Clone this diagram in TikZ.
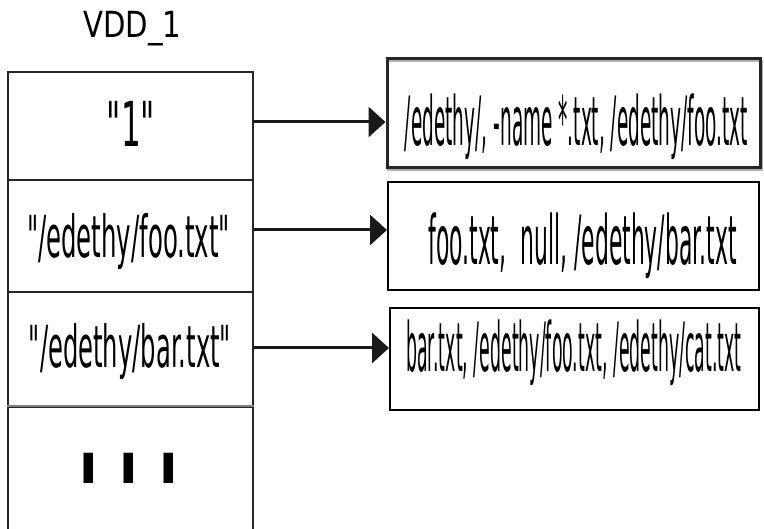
\documentclass[tikz,border=0pt]{standalone}
\usepackage{fontspec}
\usepackage{graphicx}
\setmainfont{DejaVu Sans}[Ligatures=TeXOff]
\usetikzlibrary{arrows.meta}
\newcommand\sq[2]{\scalebox{#1}[1]{#2}}
\newcommand\fs[1]{\fontsize{#1}{#1}\selectfont}
\newcommand\dq{\char34 }
\begin{document}
\begin{tikzpicture}[x=1pt,y=-1pt,
  cell/.style={draw=black!85,line width=1.5pt,minimum width=245pt,inner sep=0pt},
  tbox/.style={draw=black,line width=2pt,inner sep=0pt},
  lbl/.style={inner sep=0pt,anchor=base},
  arr/.style={line width=3pt,black!90,-{Triangle[length=17pt,width=30pt]}}]
\useasboundingbox (0,0) rectangle (764,529);
% left column
\node[cell,minimum height=108pt] (r1) at (130.5,126) {};
\node[cell,minimum height=112pt] (r2) at (130.5,236) {};
\node[cell,minimum height=115pt] (r3) at (130.5,349.5) {};
\node[cell,minimum height=138pt] (r4) at (130.5,476) {};
\draw[gray,line width=1.5pt] (r4.north west) -- (r4.north east);
% labels
\node[lbl] (vdd) at (132.5,38) {\fs{36pt}\sq{0.81}{VDD\_1}};
\node[lbl] (t1) at (131,147) {\fs{62pt}\sq{0.5}{\dq 1\dq}};
\node[lbl] (t2) at (128.5,258) {\fs{58pt}\sq{0.42}{\dq/edethy/foo.txt\dq}};
\node[lbl] (t3) at (130,368) {\fs{58pt}\sq{0.418}{\dq/edethy/bar.txt\dq}};
\node[lbl,text height=32pt,text depth=0pt] (t4) at (129,484) {\fs{60pt}\bfseries\scalebox{0.9}[2.67]{.\hspace{21.7pt}.\hspace{21.7pt}.}};
% right boxes
\draw[gray!60,line width=2pt] (388,61) rectangle (762,170);
\node[tbox,line width=3pt,draw=black!85,minimum width=373pt,minimum height=109pt] (b1) at (573.5,113.5) {};
\node[tbox,minimum width=371pt,minimum height=108pt] (b2) at (573.5,236) {};
\node[tbox,minimum width=369pt,minimum height=102pt] (b3) at (574.5,359) {};
\node[lbl] (s1) at (576.5,146) {\fs{68pt}\sq{0.272}{/edethy/, -name *.txt, /edethy/foo.txt}};
\node[lbl] (s2) at (582.5,265) {\fs{68pt}\sq{0.322}{foo.txt,\ \ null, /edethy/bar.txt}};
\node[lbl] (s3) at (574,372) {\fs{68pt}\sq{0.255}{bar.txt, /edethy/foo.txt, /edethy/cat.txt}};
% arrows
\draw[arr] ([yshift=4pt]r1.east) -- ([yshift=4pt]r1.east -| b1.west);
\draw[arr] ([yshift=6pt]r2.east) -- ([yshift=6pt]r2.east -| b2.west);
\draw[arr] ([yshift=1.5pt]r3.east) -- ([yshift=1.5pt]r3.east -| b3.west);
\end{tikzpicture}
\end{document}
